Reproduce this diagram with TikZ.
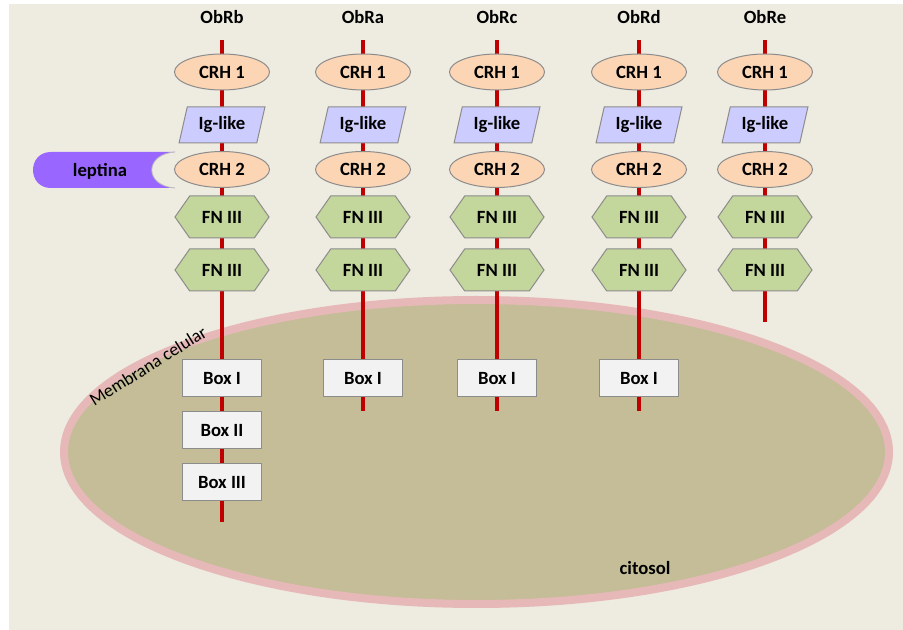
\documentclass[tikz,border=0pt]{standalone}
\usepackage{fontspec}
\setmainfont{Carlito}
\usetikzlibrary{shapes.geometric,shapes.symbols}
\definecolor{bgc}{HTML}{EEEBE0}
\definecolor{cellfill}{HTML}{C4BD97}
\definecolor{membc}{HTML}{E6B9B8}
\definecolor{redline}{HTML}{C00000}
\definecolor{peach}{HTML}{FCD5B5}
\definecolor{lav}{HTML}{CCCCFF}
\definecolor{grn}{HTML}{C3D69B}
\definecolor{boxf}{HTML}{F2F2F2}
\definecolor{bord}{HTML}{8C8C8C}
\definecolor{lept}{HTML}{9966FF}
\begin{document}
\begin{tikzpicture}[x=0.75pt,y=-0.75pt,
  lbl/.style={font=\fontsize{14}{16}\selectfont\bfseries, text=black, inner sep=1pt},
  crh/.style={lbl, ellipse, draw=bord, line width=0.75pt, fill=peach, minimum width=71.25pt, minimum height=27pt},
  ig/.style={lbl, trapezium, trapezium left angle=73, trapezium right angle=107, trapezium stretches=true, draw=bord, line width=0.75pt, fill=lav, minimum width=64.5pt, minimum height=27pt},
  fn/.style={lbl, signal, signal to=east and west, signal pointer angle=110, draw=bord, line width=0.75pt, fill=grn, minimum width=70.5pt, minimum height=31.5pt},
  boxn/.style={lbl, rectangle, draw=bord, line width=0.75pt, fill=boxf, minimum width=59.25pt, minimum height=27.75pt},
  rline/.style={redline, line width=3pt},
  memb/.style={draw=membc, fill=cellfill, line width=6pt}]
\useasboundingbox (0,0) rectangle (903,630);
\fill[bgc] (9,4) rectangle (903,630);
\draw[memb] (476.5,452) ellipse [x radius=412.5, y radius=152];
\node[font=\fontsize{13.5}{15}\selectfont, rotate=32, inner sep=0pt] (membtxt) at (148,366) {Membrana celular};
\node[lbl] (cito) at (645,568) {citosol};
% columns
\foreach \n/\x/\b/\t in {b/222/522/ObRb, a/363/411/ObRa, c/497/411/ObRc, d/639/411/ObRd, e/765/322/ObRe}{
  \coordinate (top\n) at (\x,40);
  \coordinate (bot\n) at (\x,\b);
  \draw[rline] (top\n) -- (bot\n);
  \node[lbl] (title\n) at (\x,17) {\t};
  \node[crh] (crha\n) at (\x,72) {CRH 1};
  \node[ig] (ig\n) at (\x,125) {Ig-like};
  \node[crh] (crhb\n) at (\x,169.5) {CRH 2};
  \node[fn] (fna\n) at (\x,217) {FN III};
  \node[fn] (fnb\n) at (\x,270) {FN III};
}
\foreach \n/\x in {b/222, a/363, c/497, d/639}{
  \node[boxn] (boxa\n) at (\x,378.5) {Box I};
}
\node[boxn] (boxbb) at (222,430.5) {Box II};
\node[boxn] (boxcb) at (222,482.5) {Box III};
% leptina
\fill[lept] (175,152) -- (51,152) .. controls (27,152) and (27,188) .. (51,188) -- (175,188) .. controls (144,186) and (144,154) .. (175,152) -- cycle;
\draw[bord!60, line width=0.6pt] (175,188) .. controls (144,186) and (144,154) .. (175,152);
\node[lbl] (lep) at (100,171) {leptina};
\end{tikzpicture}
\end{document}
